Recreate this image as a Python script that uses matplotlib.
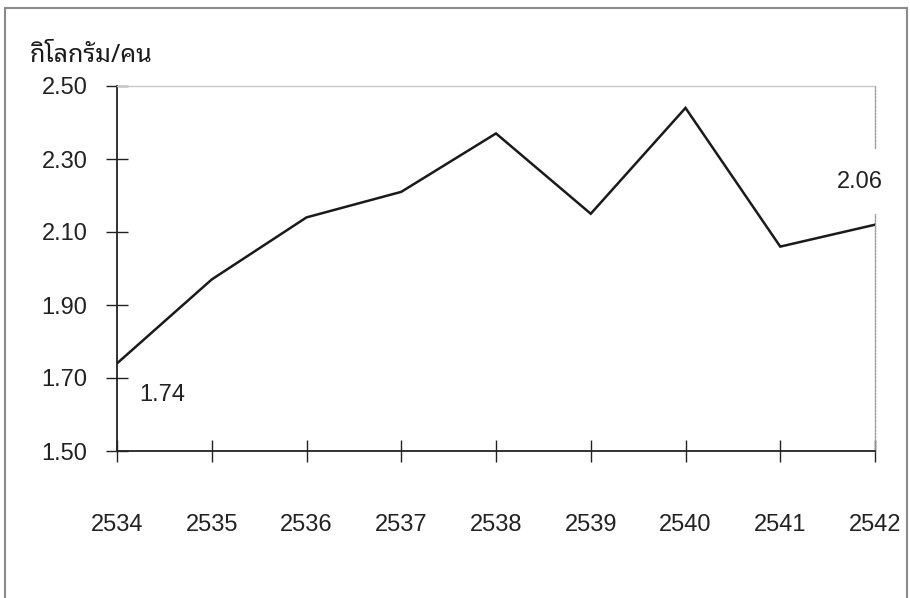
import numpy as np
import matplotlib
matplotlib.use('Agg')
import matplotlib.pyplot as plt
from matplotlib.patches import Rectangle

# per-capita consumption, kg/person, by Thai year (B.E.)
years = [2534, 2535, 2536, 2537, 2538, 2539, 2540, 2541, 2542]
kg_per_person = [1.74, 1.97, 2.14, 2.21, 2.37, 2.15, 2.44, 2.06, 2.12]
y_ticks = [1.50, 1.70, 1.90, 2.10, 2.30, 2.50]
unit_label = 'กิโลกรัม/คน'

plt.rcParams['font.family'] = ['Liberation Sans', 'DejaVu Sans']

W, H = 910, 598
fig = plt.figure(figsize=(W / 100, H / 100), dpi=100)
ax = fig.add_axes([117 / W, 1 - 451 / H, (875 - 117) / W, (451 - 86) / H])

ax.plot(years, kg_per_person, color='#1a1a1a', lw=1.8, solid_joinstyle='miter', zorder=3)

ax.set_xlim(years[0], years[-1])
ax.set_ylim(y_ticks[0], y_ticks[-1])
ax.set_xticks(years)
ax.set_xticklabels([str(y) for y in years])
ax.set_yticks(y_ticks)
ax.set_yticklabels(['%.2f' % v for v in y_ticks])

ax.tick_params(axis='both', direction='inout', length=16.5, width=1.0,
               colors='#222222', labelsize=17, labelcolor='#222222')
ax.tick_params(axis='y', pad=13)
ax.tick_params(axis='x', pad=37)

for side in ['left', 'bottom']:
    ax.spines[side].set_color('#222222')
    ax.spines[side].set_linewidth(1.3)
ax.spines['top'].set_color('#c8c8c8')
ax.spines['top'].set_linewidth(1.0)
ax.spines['right'].set_color('#9a9a9a')
ax.spines['right'].set_linewidth(1.0)
ax.spines['right'].set_linestyle((0, (1.2, 1.2)))

# value labels at the ends
ax.annotate('%.2f' % kg_per_person[0], xy=(years[0], kg_per_person[0]),
            xytext=(22, -32), textcoords='offset pixels',
            ha='left', va='center', fontsize=17, color='#222222')
ax.annotate('%.2f' % kg_per_person[7], xy=(years[-1], kg_per_person[-1]),
            xytext=(-15, 43), textcoords='offset pixels',
            ha='center', va='center', fontsize=17, color='#222222', zorder=4,
            bbox=dict(boxstyle='square,pad=0.9', fc='white', ec='none'))

fig.text(30 / W, 1 - 62 / H, unit_label, fontsize=18, fontweight='bold',
         family=['Noto Sans Thai Looped', 'Noto Sans Thai', 'DejaVu Sans'],
         color='#1a1a1a', ha='left', va='baseline')

# outer frame of the chart area
fig.patches.append(Rectangle((5 / W, -0.05), (907 - 5) / W, 1.05 - 8 / H,
                             transform=fig.transFigure, fill=False,
                             ec='#8a8a8a', lw=1.5))

fig.savefig('out.png', dpi=100, facecolor='white')
